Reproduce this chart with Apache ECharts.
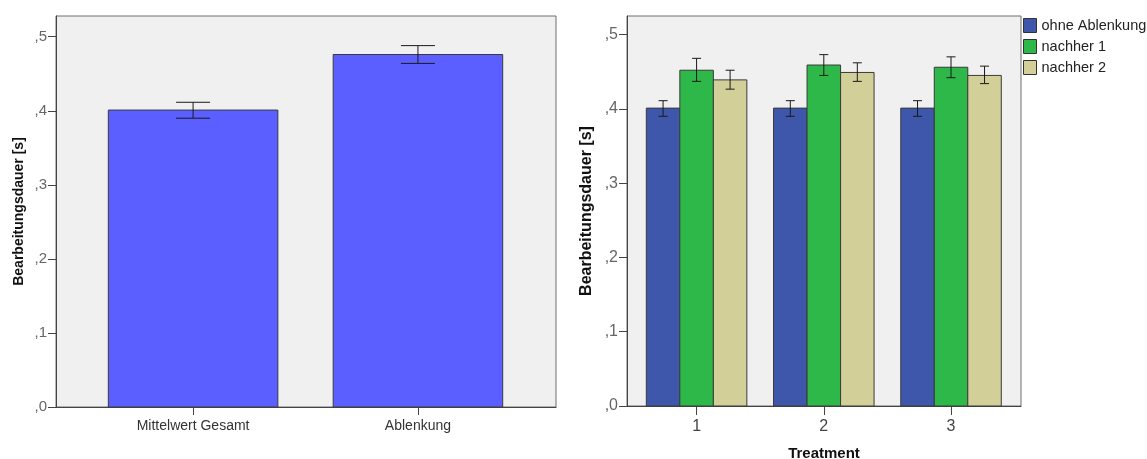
<!DOCTYPE html>
<html>
<head>
<meta charset="utf-8">
<script src="https://cdn.jsdelivr.net/npm/echarts@6/dist/echarts.min.js"></script>
<style>html,body{margin:0;padding:0;background:#fff}#c{width:1147px;height:459px}</style>
</head>
<body>
<div id="c"></div>
<script>
// ---- data ----
const leftCategories = ['Mittelwert Gesamt', 'Ablenkung'];
const leftMeans = [0.401, 0.476];
const leftLow = [0.390, 0.464];
const leftHigh = [0.4115, 0.488];

const treatments = ['1', '2', '3'];
const seriesNames = ['ohne Ablenkung', 'nachher 1', 'nachher 2'];
const ohneMeans = [0.401, 0.401, 0.401];
const ohneLow = [0.390, 0.390, 0.390];
const ohneHigh = [0.411, 0.411, 0.411];
const nachher1Means = [0.452, 0.459, 0.456];
const nachher1Low = [0.437, 0.445, 0.442];
const nachher1High = [0.468, 0.473, 0.470];
const nachher2Means = [0.439, 0.449, 0.445];
const nachher2Low = [0.4265, 0.437, 0.434];
const nachher2High = [0.452, 0.462, 0.4575];

const yTicks = [0, 0.1, 0.2, 0.3, 0.4, 0.5];

// ---- helpers ----
const FONT = "'Liberation Sans', Arial, sans-serif";
function rows(means, low, high) {
  return means.map((m, i) => [i + 1, m, low[i], high[i]]);
}
function makeRender(offset, widthUnits, capPx) {
  return function (params, api) {
    const x = api.value(0), y = api.value(1), lo = api.value(2), hi = api.value(3);
    const w = api.size([widthUnits, 0])[0];
    const base = api.coord([x, 0]);
    const top = api.coord([x, y]);
    const cx = base[0] + offset * w;
    const yLo = api.coord([x, lo])[1];
    const yHi = api.coord([x, hi])[1];
    const stroke = '#1a1a1a';
    return {
      type: 'group',
      children: [
        { type: 'rect', shape: { x: cx - w / 2, y: top[1], width: w, height: base[1] - top[1] },
          style: { fill: api.visual('color'), stroke: '#3a3a3a', lineWidth: 1 } },
        { type: 'line', shape: { x1: cx, y1: yHi, x2: cx, y2: yLo }, style: { stroke: stroke, lineWidth: 1 } },
        { type: 'line', shape: { x1: cx - capPx / 2, y1: yHi, x2: cx + capPx / 2, y2: yHi }, style: { stroke: stroke, lineWidth: 1 } },
        { type: 'line', shape: { x1: cx - capPx / 2, y1: yLo, x2: cx + capPx / 2, y2: yLo }, style: { stroke: stroke, lineWidth: 1 } }
      ]
    };
  };
}
const yFmt = v => ',' + Math.round(v * 10);

function yAxis(gridIndex, max, fontSize, nameSize, nameGap) {
  return {
    type: 'value', gridIndex: gridIndex, min: 0, max: max,
    name: 'Bearbeitungsdauer [s]', nameLocation: 'middle', nameRotate: 90, nameGap: nameGap,
    nameTextStyle: { fontFamily: FONT, fontSize: nameSize, fontWeight: 'bold', color: '#111' },
    axisLine: { show: true, lineStyle: { color: '#444', width: 1 } },
    axisTick: { show: true, length: 8, customValues: yTicks, lineStyle: { color: '#444' } },
    axisLabel: { customValues: yTicks, formatter: yFmt, margin: 9, padding: [4, 0, 0, 0],
      fontFamily: FONT, fontSize: fontSize, color: '#666' },
    splitLine: { show: false }
  };
}

const option = {
  animation: false,
  backgroundColor: '#fff',
  grid: [
    { left: 56, top: 16, width: 500, height: 391, show: true, backgroundColor: '#f0f0f0', borderColor: '#6e6e6e', borderWidth: 1, outerBoundsMode: 'none', containLabel: false },
    { left: 627, top: 16, width: 394, height: 390, show: true, backgroundColor: '#f0f0f0', borderColor: '#6e6e6e', borderWidth: 1, outerBoundsMode: 'none', containLabel: false }
  ],
  xAxis: [
    {
      type: 'value', gridIndex: 0, min: 0.3903, max: 2.614,
      axisLine: { show: true, lineStyle: { color: '#444' } },
      axisTick: { show: true, length: 8, customValues: [1, 2], lineStyle: { color: '#444' } },
      axisLabel: { customValues: [1, 2], formatter: v => leftCategories[Math.round(v) - 1] || '', margin: 12,
        fontFamily: FONT, fontSize: 14, color: '#333' },
      splitLine: { show: false }
    },
    {
      type: 'value', gridIndex: 1, min: 0.453, max: 3.550,
      name: 'Treatment', nameLocation: 'middle', nameGap: 40,
      nameTextStyle: { fontFamily: FONT, fontSize: 15, fontWeight: 'bold', color: '#111' },
      axisLine: { show: true, lineStyle: { color: '#444' } },
      axisTick: { show: true, length: 9, customValues: [1, 2, 3], lineStyle: { color: '#444' } },
      axisLabel: { customValues: [1, 2, 3], formatter: v => treatments[Math.round(v) - 1] || '', margin: 13,
        fontFamily: FONT, fontSize: 16, color: '#444' },
      splitLine: { show: false }
    }
  ],
  yAxis: [
    yAxis(0, 0.528, 15, 14, 30),
    yAxis(1, 0.525, 16, 16, 32)
  ],
  legend: {
    data: seriesNames,
    orient: 'vertical', left: 1023, top: 18, padding: 0,
    itemWidth: 13, itemHeight: 14, itemGap: 6, icon: 'rect',
    itemStyle: { borderColor: '#333', borderWidth: 1 },
    textStyle: { fontFamily: FONT, fontSize: 14.5, color: '#222' },
    selectedMode: false
  },
  series: [
    { type: 'custom', name: 'Gesamt', xAxisIndex: 0, yAxisIndex: 0,
      itemStyle: { color: '#5b5fff' },
      renderItem: makeRender(0, 0.754, 34), data: rows(leftMeans, leftLow, leftHigh) },
    { type: 'custom', name: seriesNames[0], xAxisIndex: 1, yAxisIndex: 1,
      itemStyle: { color: '#3e57ab' },
      renderItem: makeRender(-1, 0.2634, 9), data: rows(ohneMeans, ohneLow, ohneHigh) },
    { type: 'custom', name: seriesNames[1], xAxisIndex: 1, yAxisIndex: 1,
      itemStyle: { color: '#2eb84a' },
      renderItem: makeRender(0, 0.2634, 9), data: rows(nachher1Means, nachher1Low, nachher1High) },
    { type: 'custom', name: seriesNames[2], xAxisIndex: 1, yAxisIndex: 1,
      itemStyle: { color: '#d3cf98' },
      renderItem: makeRender(1, 0.2634, 9), data: rows(nachher2Means, nachher2Low, nachher2High) }
  ]
};

const chart = echarts.init(document.getElementById('c'), null, { renderer: 'canvas' });
chart.setOption(option);
</script>
</body>
</html>
